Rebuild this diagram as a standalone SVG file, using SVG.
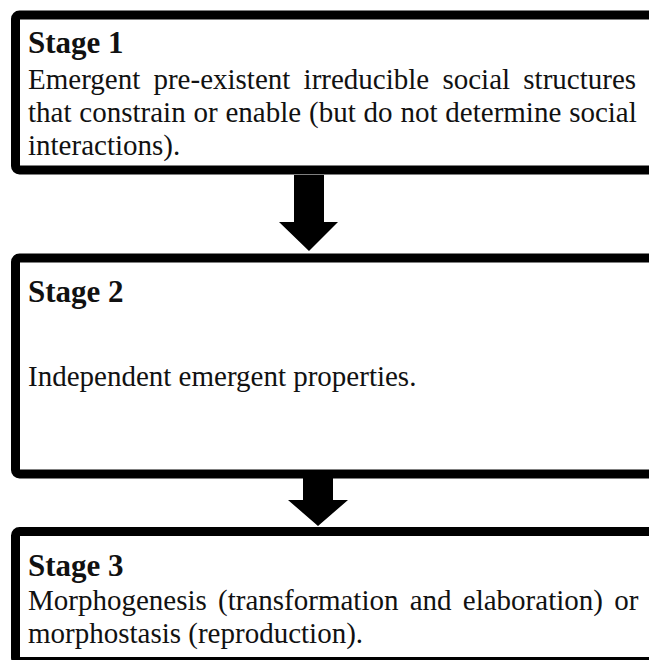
<svg xmlns="http://www.w3.org/2000/svg" width="649" height="660" viewBox="0 0 649 660">
  <style>
    .box { fill: #fff; stroke: #000; stroke-width: 9; }
    .head { font-family: "Liberation Serif", "Times New Roman", serif; font-weight: bold; font-size: 31px; fill: #111; }
    .body { font-family: "Liberation Serif", "Times New Roman", serif; font-size: 29px; fill: #111; }
    .arrow { fill: #000; }
  </style>
  <rect width="649" height="660" fill="#fff"/>

  <g id="stage1">
    <rect class="box" x="15.5" y="15" width="700" height="155" rx="4"/>
    <text class="head" x="28" y="53">Stage 1</text>
    <text class="body" x="28" y="89" word-spacing="6">Emergent pre-existent irreducible social structures</text>
    <text class="body" x="28" y="122" word-spacing="0.6">that constrain or enable (but do not determine social</text>
    <text class="body" x="28" y="155">interactions).</text>
  </g>

  <g id="stage2">
    <rect class="box" x="15.5" y="258" width="700" height="216" rx="4"/>
    <text class="head" x="28" y="302">Stage 2</text>
    <text class="body" x="28" y="386">Independent emergent properties.</text>
  </g>

  <g id="stage3">
    <rect class="box" x="15.5" y="531.5" width="700" height="130" rx="4"/>
    <text class="head" x="28" y="576">Stage 3</text>
    <text class="body" x="28" y="610" word-spacing="4">Morphogenesis (transformation and elaboration) or</text>
    <text class="body" x="28" y="643">morphostasis (reproduction).</text>
  </g>

  <g id="connectors">
    <polygon class="arrow" points="294,175 324,175 324,222 338,222 309,251 279,222 294,222"/>
    <polygon class="arrow" points="303,478 333,478 333,500 348,500 318,526 288,500 303,500"/>
  </g>
</svg>
